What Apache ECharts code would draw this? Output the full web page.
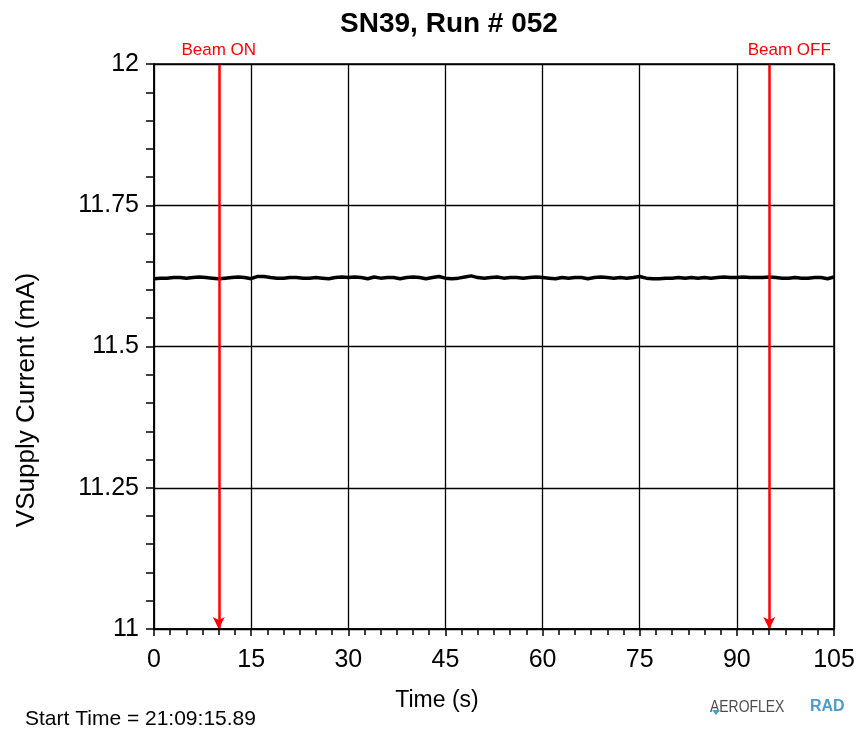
<!DOCTYPE html>
<html>
<head>
<meta charset="utf-8">
<script src="https://cdn.jsdelivr.net/npm/echarts@6/dist/echarts.min.js"></script>
<style>
  html, body { margin: 0; padding: 0; background: #fff; }
  #chart { width: 860px; height: 735px; }
</style>
</head>
<body>
<div id="chart"></div>
<script>
// time in seconds, one reading per second
var times = [];
for (var t = 0; t <= 105; t++) times.push(t);

// VSupply current (mA)
var current = [
    11.620, 11.621, 11.621, 11.622, 11.622, 11.621, 11.622, 11.623, 11.622, 11.621,
    11.620, 11.621, 11.622, 11.623, 11.622, 11.620, 11.624, 11.624, 11.622, 11.621,
    11.621, 11.622, 11.622, 11.621, 11.621, 11.622, 11.621, 11.620, 11.622, 11.623,
    11.622, 11.623, 11.622, 11.620, 11.623, 11.621, 11.622, 11.622, 11.620, 11.622,
    11.623, 11.622, 11.620, 11.622, 11.624, 11.621, 11.620, 11.621, 11.623, 11.625,
    11.622, 11.621, 11.622, 11.623, 11.621, 11.622, 11.622, 11.621, 11.622, 11.623,
    11.622, 11.621, 11.620, 11.622, 11.621, 11.622, 11.622, 11.620, 11.622, 11.623,
    11.622, 11.621, 11.622, 11.621, 11.622, 11.624, 11.621, 11.620, 11.620, 11.621,
    11.621, 11.622, 11.621, 11.622, 11.621, 11.622, 11.621, 11.622, 11.623, 11.622,
    11.622, 11.623, 11.622, 11.622, 11.622, 11.623, 11.622, 11.621, 11.621, 11.622,
    11.621, 11.621, 11.622, 11.622, 11.620, 11.623
];

var xTicks = [0, 15, 30, 45, 60, 75, 90, 105];
var yTicks = [11, 11.25, 11.5, 11.75, 12];

var beamOn = 10;
var beamOff = 95;

var myChart = echarts.init(document.getElementById('chart'));

var option = {
    backgroundColor: '#fff',
    animation: false,
    title: {
        text: 'SN39, Run # 052',
        left: 444,
        textAlign: 'center',
        top: 5,
        textStyle: { fontFamily: 'Liberation Sans', fontSize: 28, fontWeight: 'bold', color: '#000' }
    },
    grid: { left: 154, right: 26, top: 64, bottom: 106 },
    xAxis: {
        type: 'value',
        min: xTicks[0],
        max: xTicks[xTicks.length - 1],
        interval: 15,
        axisLine: { lineStyle: { color: '#000', width: 1.5 } },
        axisTick: { length: 7, lineStyle: { color: '#000', width: 1.5 } },
        minorTick: { show: true, splitNumber: 6, length: 6, lineStyle: { color: '#000', width: 1.5 } },
        axisLabel: { fontFamily: 'Liberation Sans', fontSize: 25, color: '#000', margin: 19 },
        splitLine: { show: true, lineStyle: { color: '#000', width: 1.3 } }
    },
    yAxis: {
        type: 'value',
        min: yTicks[0],
        max: yTicks[yTicks.length - 1],
        interval: 0.25,
        axisLine: { show: true, lineStyle: { color: '#000', width: 1.5 } },
        axisTick: { show: true, length: 8, lineStyle: { color: '#000', width: 1.5 } },
        minorTick: { show: true, splitNumber: 5, length: 8, lineStyle: { color: '#000', width: 1.5 } },
        axisLabel: { fontFamily: 'Liberation Sans', fontSize: 25, color: '#000', margin: 15 },
        splitLine: { show: true, lineStyle: { color: '#000', width: 1.3 } }
    },
    graphic: [
        {   // border on top and right
            type: 'rect', z: 50,
            shape: { x: 154, y: 64, width: 680, height: 565 },
            style: { fill: 'none', stroke: '#000', lineWidth: 1.5 }
        },
        {
            type: 'text', x: 27, y: 400, rotation: Math.PI / 2,
            style: { text: 'VSupply Current (mA)', fontFamily: 'Liberation Sans', fontSize: 26, fill: '#000',
                     textAlign: 'center', textVerticalAlign: 'middle' }
        },
        {
            type: 'text', x: 437, y: 701,
            style: { text: 'Time (s)', fontFamily: 'Liberation Sans', fontSize: 23, fill: '#000',
                     textAlign: 'center', textVerticalAlign: 'middle' }
        },
        {
            type: 'text', x: 25, y: 719,
            style: { text: 'Start Time = 21:09:15.89', fontFamily: 'Liberation Sans', fontSize: 21, fill: '#000',
                     textAlign: 'left', textVerticalAlign: 'middle' }
        },
        {
            type: 'text', x: 710, y: 707, scaleX: 0.82,
            style: { text: 'AEROFLEX', fontFamily: 'Liberation Sans', fontSize: 17, fill: '#4d4d4d',
                     textAlign: 'left', textVerticalAlign: 'middle' }
        },
        {
            type: 'polygon',
            shape: { points: [[712, 710], [720, 710], [716, 715]] },
            style: { fill: '#4a9ccc' }
        },
        {
            type: 'text', x: 810, y: 707,
            style: { text: 'RAD', fontFamily: 'Liberation Sans', fontSize: 16, fontWeight: 'bold', fill: '#4a9ccc',
                     textAlign: 'left', textVerticalAlign: 'middle' }
        }
    ],
    series: [{
        type: 'line',
        data: times.map(function (t, i) { return [t, current[i]]; }),
        showSymbol: false,
        smooth: false,
        lineStyle: { color: '#000', width: 3.5 },
        z: 3,
        markLine: {
            silent: true,
            symbol: ['none', 'arrow'],
            symbolSize: [9, 12],
            lineStyle: { color: '#ff0000', type: 'solid', width: 2.5 },
            label: {
                show: true, position: 'start', distance: 5,
                fontFamily: 'Liberation Sans', fontSize: 17, color: '#ff0000'
            },
            data: [
                [{ coord: [beamOn, 12], label: { formatter: 'Beam ON' } }, { coord: [beamOn, 11] }],
                [{ coord: [beamOff, 12], label: { formatter: 'Beam OFF', offset: [20, 0] } }, { coord: [beamOff, 11] }]
            ]
        }
    }]
};

myChart.setOption(option);
</script>
</body>
</html>
